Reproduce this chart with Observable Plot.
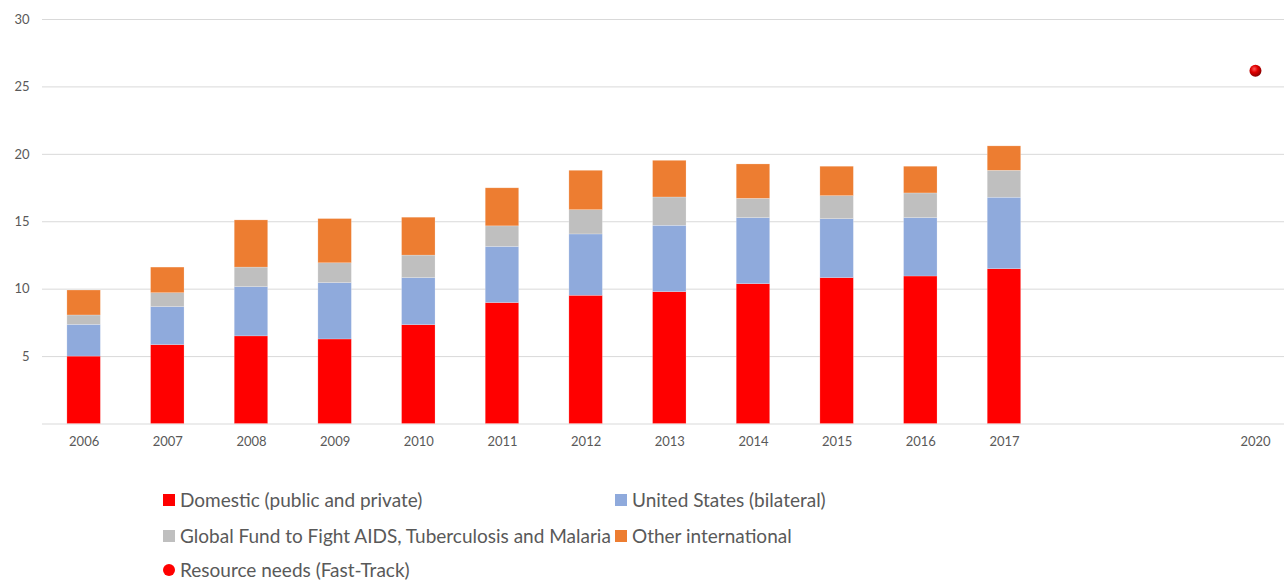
<!DOCTYPE html>
<html>
<head>
<meta charset="utf-8">
<script src="https://cdn.jsdelivr.net/npm/d3@7"></script>
<script src="https://cdn.jsdelivr.net/npm/@observablehq/plot@0.6"></script>
<style>
  html, body { margin: 0; padding: 0; background: #fff; }
  #wrap { position: relative; width: 1284px; height: 580px; font-family: Lato, "Open Sans", sans-serif; overflow: hidden; }
  .lg { position: absolute; font-size: 19px; color: #595959; white-space: nowrap; line-height: 22px; }
  .sw { position: absolute; width: 12px; height: 12px; }
</style>
</head>
<body>
<div id="wrap"></div>
<script>
const years = ["2006","2007","2008","2009","2010","2011","2012","2013","2014","2015","2016","2017"];
const allYears = [...years, "2018", "2019", "2020"];
const tickLabels = {"2018": "", "2019": ""};
const seriesNames = [
  "Domestic (public and private)",
  "United States (bilateral)",
  "Global Fund to Fight AIDS, Tuberculosis and Malaria",
  "Other international"
];
const seriesColors = ["#ff0000", "#8faadc", "#bfbfbf", "#ed7d31"];
const domestic = [5.0, 5.85, 6.5, 6.27, 7.33, 8.97, 9.51, 9.78, 10.37, 10.82, 10.94, 11.48];
const unitedStates = [2.35, 2.82, 3.65, 4.18, 3.49, 4.16, 4.55, 4.92, 4.9, 4.37, 4.33, 5.3];
const globalFund = [0.7, 1.03, 1.45, 1.47, 1.67, 1.53, 1.8, 2.1, 1.43, 1.71, 1.83, 2.0];
const otherIntl = [1.85, 1.9, 3.5, 3.28, 2.81, 2.82, 2.92, 2.72, 2.55, 2.18, 1.98, 1.81];
const needsYear = ["2020"];
const needsValue = [26.2];
const needsName = "Resource needs (Fast-Track)";
const yTicks = [5, 10, 15, 20, 25, 30];
const gridValues = [0, 5, 10, 15, 20, 25, 30];

const seriesValues = [domestic, unitedStates, globalFund, otherIntl];
const table = [];
seriesNames.forEach((s, i) => years.forEach((y, j) => table.push({year: y, series: s, value: seriesValues[i][j]})));
const needs = needsYear.map((y, i) => ({year: y, value: needsValue[i]}));

const plot = Plot.plot({
  width: 1284,
  height: 460,
  marginTop: 19,
  marginBottom: 36.5,
  marginLeft: 42,
  marginRight: 0,
  style: {fontFamily: "Lato, 'Open Sans', sans-serif", fontSize: "13px", color: "#595959", background: "#fff", overflow: "visible"},
  x: {domain: allYears, range: [41.8, 1296.8], paddingInner: 0.6, paddingOuter: 0.3, round: false, label: null},
  y: {domain: [0, 30], label: null},
  color: {domain: seriesNames, range: seriesColors},
  marks: [
    Plot.ruleY(gridValues, {stroke: "#d9d9d9", strokeWidth: 1}),
    Plot.barY(table, {x: "year", y: "value", fill: "series", order: seriesNames, stroke: "#fff", strokeOpacity: 0.35, strokeWidth: 0.6}),
    Plot.dot(needs, {x: "year", y: "value", r: 6, fill: "url(#ballGrad)", stroke: "none"}),
    Plot.axisX({tickSize: 0, tickPadding: 13, tickFormat: d => (d in tickLabels ? tickLabels[d] : d), fill: "#595959"}),
    Plot.axisY({ticks: yTicks, tickSize: 0, tickPadding: 13, fill: "#595959"})
  ]
});

const defs = d3.select(plot).insert("defs", ":first-child");
const g = defs.append("radialGradient").attr("id", "ballGrad").attr("cx", "40%").attr("cy", "35%").attr("r", "65%");
g.append("stop").attr("offset", "0%").attr("stop-color", "#ff5a5a");
g.append("stop").attr("offset", "45%").attr("stop-color", "#e00000");
g.append("stop").attr("offset", "100%").attr("stop-color", "#8a0000");

const wrap = document.getElementById("wrap");
wrap.appendChild(plot);

const legendItems = [
  {name: seriesNames[0], color: seriesColors[0], x: 163, y: 500, shape: "sq"},
  {name: seriesNames[1], color: seriesColors[1], x: 615, y: 500, shape: "sq"},
  {name: seriesNames[2], color: seriesColors[2], x: 163, y: 536, shape: "sq"},
  {name: seriesNames[3], color: seriesColors[3], x: 615, y: 536, shape: "sq"},
  {name: needsName, color: "#ff0000", x: 163, y: 570, shape: "dot"}
];
legendItems.forEach(it => {
  const sw = document.createElement("div");
  sw.className = "sw";
  sw.style.left = it.x + "px";
  sw.style.top = (it.y - 6) + "px";
  sw.style.background = it.color;
  if (it.shape === "dot") sw.style.borderRadius = "50%";
  wrap.appendChild(sw);
  const t = document.createElement("div");
  t.className = "lg";
  t.style.left = (it.x + 17) + "px";
  t.style.top = (it.y - 11) + "px";
  t.textContent = it.name;
  wrap.appendChild(t);
});
</script>
</body>
</html>
